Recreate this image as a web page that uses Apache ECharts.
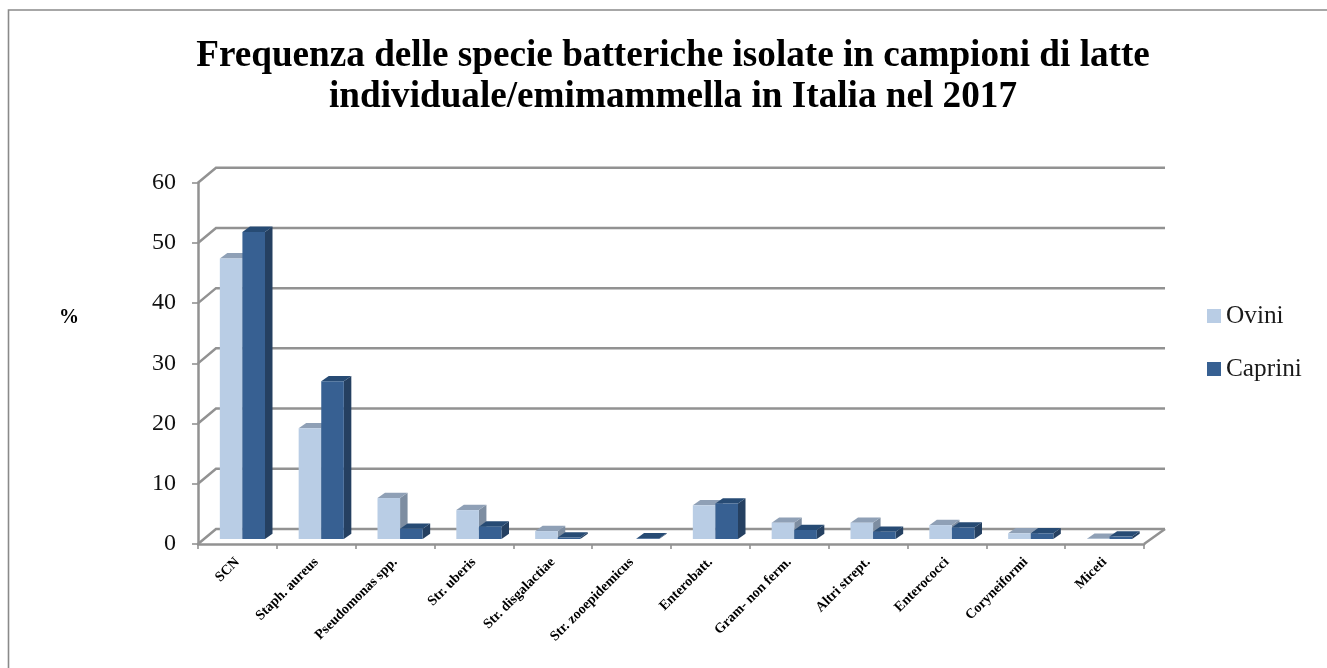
<!DOCTYPE html>
<html><head><meta charset="utf-8">
<style>html,body{margin:0;padding:0;background:#fff}#c{width:1327px;height:668px}</style>
<script src="https://cdn.jsdelivr.net/npm/echarts@6/dist/echarts.min.js"></script>
</head><body><div id="c"></div>
<script>
const categories = ['SCN','Staph. aureus','Pseudomonas spp.','Str. uberis','Str. disgalactiae','Str. zooepidemicus','Enterobatt.','Gram- non ferm.','Altri strept.','Enterococci','Coryneiformi','Miceti'];
const ovini   = [46.6,18.4,6.8,4.8,1.3,0,5.6,2.7,2.7,2.3,0.95,0.05];
const caprini = [51.0,26.2,1.7,2.05,0.25,0.1,5.9,1.5,1.2,1.9,0.95,0.4];
const yTicks = [0,10,20,30,40,50,60];
const titleText = 'Frequenza delle specie batteriche isolate in campioni di latte\nindividuale/emimammella in Italia nel 2017';

const FONT = '"Liberation Serif", serif';
const GRID = '#929292';
const WALL_DX_L = 18, WALL_DX_R = 21, WALL_DY = -15;
const BAR_DX = 5, BAR_DY = -5;
const SIDE_DX = 7.5, SIDE_DY = -5.3;

function wall(params, api){
  const cs = params.coordSys;
  const p = api.coord([0, api.value(0)]);
  const l = cs.x, r = cs.x + cs.width, y = p[1];
  const st = {stroke: GRID, lineWidth: 2.5, fill: 'none'};
  const kids = [
    {type:'polyline', shape:{points:[[l,y],[l+WALL_DX_L,y+WALL_DY],[r+WALL_DX_R,y+WALL_DY]]}, style:st}
  ];
  if (api.value(0) === 0) kids.push({type:'line', shape:{x1:r,y1:y,x2:r+WALL_DX_R,y2:y+WALL_DY}, style:{stroke:GRID,lineWidth:2.5}});
  return {type:'group', children:kids};
}
function barItem(serie, front, top, side){
  return function(params, api){
    const i = api.value(0), v = api.value(1);
    if (!(v > 0)) return null;
    const c = api.coord([i, v]), b = api.coord([i, 0]);
    const w = api.size([1,0])[0] * 0.2865;
    const x0 = (serie === 0 ? c[0] - w : c[0]) + BAR_DX;
    const x1 = x0 + w;
    const yt = c[1] + BAR_DY, yb = b[1] + BAR_DY;
    return {type:'group', children:[
      {type:'polygon', shape:{points:[[x1,yt],[x1+SIDE_DX,yt+SIDE_DY],[x1+SIDE_DX,yb+SIDE_DY],[x1,yb]]}, style:{fill:side}},
      {type:'polygon', shape:{points:[[x0,yt],[x0+SIDE_DX,yt+SIDE_DY],[x1+SIDE_DX,yt+SIDE_DY],[x1,yt]]}, style:{fill:top}},
      {type:'rect', shape:{x:x0,y:yt,width:w,height:yb-yt}, style:{fill:front}}
    ]};
  };
}
const chart = echarts.init(document.getElementById('c'), null, {renderer:'canvas'});
chart.setOption({
  animation:false,
  backgroundColor:'#fff',
  title:[{
    text:titleText, left:668, top:31, textAlign:'center',
    textStyle:{fontFamily:FONT, fontWeight:'bold', fontSize:37.2, lineHeight:41, color:'#000'}
  }],
  legend:{
    orient:'vertical', left:1202, top:298, itemWidth:14, itemHeight:14, itemGap:27,
    data:[{name:'Ovini',icon:'rect'},{name:'Caprini',icon:'rect'}],
    textStyle:{fontFamily:FONT, fontSize:25.3, lineHeight:26, color:'#1a1a1a'}
  },
  grid:{left:198, right:183, top:182.7, bottom:124},
  xAxis:{
    type:'category', data:categories,
    axisLine:{lineStyle:{color:GRID,width:2.5}},
    axisTick:{show:true,length:5,lineStyle:{color:GRID,width:1.6}},
    axisLabel:{rotate:45,interval:0,margin:16,fontFamily:FONT,fontWeight:'bold',fontSize:14,color:'#000'},
    splitLine:{show:false}
  },
  yAxis:{
    type:'value', min:0, max:60, interval:10,
    axisLine:{show:true,lineStyle:{color:GRID,width:2.5}},
    axisTick:{show:true,length:6,lineStyle:{color:GRID,width:1.6}},
    axisLabel:{margin:22,fontFamily:FONT,fontSize:24,color:'#111'},
    splitLine:{show:false}
  },
  graphic:[
    {type:'polyline',silent:true,z:-1,shape:{points:[[8.5,668],[8.5,10],[1327,10]]},style:{stroke:'#8a8a8a',lineWidth:1.6,fill:'none'}},
    {type:'text',silent:true,style:{text:'%',x:69,y:318,align:'center',verticalAlign:'middle',font:'bold 20px "Liberation Serif", serif',fill:'#000'}}
  ],
  series:[
    {type:'custom',name:'wall',silent:true,z:1,renderItem:wall,encode:{y:0},data:yTicks.map(v=>[v])},
    {type:'custom',name:'Ovini',z:2,itemStyle:{color:'#b9cde5'},renderItem:barItem(0,'#b9cde5','#8fa0b6','#7d8da1'),encode:{x:0,y:1},
      data:ovini.map((v,i)=>[i,v])},
    {type:'custom',name:'Caprini',z:3,itemStyle:{color:'#376092'},renderItem:barItem(1,'#376092','#274b74','#254061'),encode:{x:0,y:1},
      data:caprini.map((v,i)=>[i,v])}
  ]
});
</script></body></html>
